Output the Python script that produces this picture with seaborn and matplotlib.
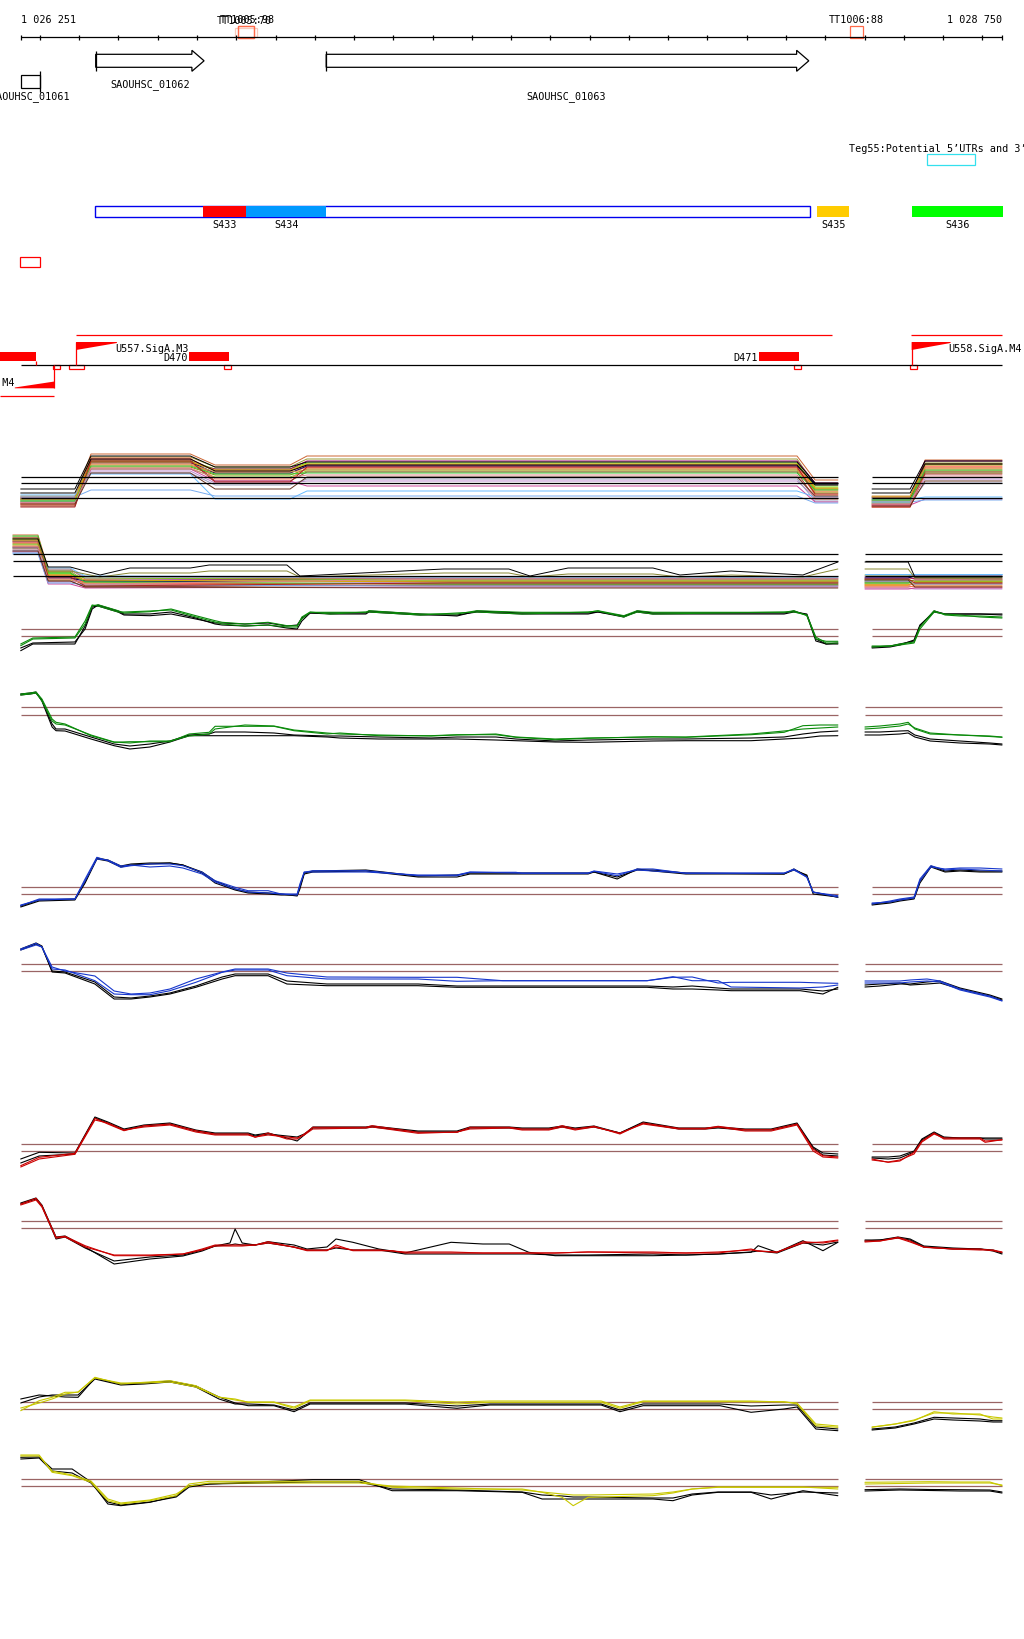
import numpy as np
import pandas as pd
import matplotlib
matplotlib.use("Agg")
import matplotlib.pyplot as plt
import seaborn as sns
from matplotlib.patches import Rectangle, Polygon

# ---------------- data ----------------
START = 1026251
END = 1028750
TICK_STEP = 100

# genes: (name, start offset, end offset, head start offset)
GENE_01062 = ("SAOUHSC_01062", 191, 467, 436)
GENE_01063 = ("SAOUHSC_01063", 778, 2007, 1976)
GENE_01061 = ("SAOUHSC_01061", 0, 48)

TT_SITES = [("TT1005:70", 553, 594), ("TT1005:98", 553, 594), ("TT1006:88", 2112, 2145)]
TEG55 = ("Teg55:Potential 5’UTRs and 3’UTRs", 2308, 2429)

SEG_BAR = (188, 2010)
SEGMENTS = ["S433", "S434", "S435", "S436"]
SEG_START = [464, 574, 2028, 2270]
SEG_END = [574, 778, 2110, 2502]
SEG_COLORS = ["#ff0000", "#0099ff", "#ffcc00", "#00ff00"]

PROMOTERS = ["U556.SigA.M4", "U557.SigA.M3", "U558.SigA.M4"]
PROM_POS = [86, 141, 2269]
PROM_END = [-15, 245, 2368]
TERMINATORS = ["", "D470", "D471"]
TERM_START = [-53, 429, 1881]
TERM_END = [40, 531, 1983]

# ---- multi-condition tracks (levels per line) ----
MULTI_COLORS = ['#cc6633', '#999933', '#66dd00', '#ff3333', '#990066', '#ff6633', '#888800',
                '#77cc22', '#ff7755', '#994433', '#000066', '#cc9944', '#bb88cc', '#9999bb',
                '#cc4499', '#66bbff', '#77aaee', '#33cc33', '#ddaa00', '#aa2222', '#dd8888', '#663322']
M1_X = [0, 138, 179, 432, 495, 686, 729, 1977, 2023, 2081]
M1_LEVELS = [[22, 65, 54, 63, 39], [20, 62, 52, 60, 34], [19, 58, 50, 56, 32], [15, 60, 48, 54, 30],
             [17, 56, 50, 58, 36], [14, 54, 46, 52, 28], [21, 52, 44, 50, 26], [18, 50, 42, 48, 30],
             [16, 61, 40, 51, 24], [13, 59, 38, 47, 20], [20, 57, 46, 53, 35], [23, 55, 47, 49, 27],
             [17, 48, 36, 38, 22], [19, 46, 34, 40, 18], [21, 50, 38, 33, 17], [24, 45, 20, 28, 22],
             [22, 29, 23, 23, 16], [18, 53, 45, 46, 29], [20, 57, 49, 55, 31], [12, 58, 37, 52, 25],
             [16, 51, 41, 44, 21], [15, 46, 30, 42, 23]]
M1_BLACK = [[30, 63, 52, 57, 36], [26, 60, 48, 54, 34]]
M1_RX = [2168, 2265, 2303, 2499]
M1_R = [[20, 59], [18, 56], [16, 54], [14, 52], [22, 58], [12, 50], [19, 48], [17, 46], [13, 53],
        [15, 47], [21, 55], [23, 51], [18, 40], [16, 36], [14, 20], [20, 22], [17, 19], [19, 49],
        [22, 55], [12, 45], [15, 43], [13, 38]]
M1_RBLACK = [[30, 58], [26, 55]]
M1_REFS = [41.7, 35.7, 20.7]

M2_X = [-20, 44, 70, 126, 164, 1093, 2081]
M2_LEVELS = [[64, 30, 20, 21], [62, 28, 18, 19], [60, 26, 17, 18], [58, 24, 16, 15], [57, 22, 19, 20],
             [56, 20, 14, 16], [55, 27, 13, 14], [54, 25, 21, 19], [53, 23, 15, 13], [52, 18, 12, 14],
             [51, 21, 18, 17], [50, 19, 16, 18], [49, 17, 20, 16], [48, 29, 22, 21], [47, 15, 11, 12],
             [46, 31, 23, 22], [45, 16, 14, 13], [63, 26, 17, 15], [59, 24, 19, 17], [61, 22, 13, 16],
             [52, 20, 15, 20], [48, 18, 12, 11]]
M2_BX = [-20, 44, 70, 126, 202, 278, 432, 480, 678, 711, 1078, 1243, 1297, 1394, 1610, 1679, 1809, 1992, 2081]
M2_BLACK = [60, 60, 32, 32, 24, 31, 31, 34, 34, 23, 30, 30, 23, 31, 31, 24, 28, 24, 37]
M2_OLIVE = [58, 58, 28, 28, 22, 26, 26, 28, 28, 22, 26, 26, 22, 25, 25, 22, 24, 22, 30]
M2_RX = [2150, 2260, 2277, 2499]
M2_R = [[20, 21], [18, 19], [16, 17], [14, 15], [22, 20], [12, 13], [19, 18], [24, 22], [13, 12],
        [17, 16], [21, 23], [15, 14], [11, 10], [23, 24], [10, 11], [25, 25], [18, 15], [16, 18],
        [14, 17], [20, 16], [12, 19], [19, 12]]
M2_RBLACK = [37, 37, 22, 22]
M2_ROLIVE = [30, 30, 21, 20]
M2_REFS = [44.7, 37.7, 22.7]

# ---- green ----
GP_X = [0, 31, 138, 164, 182, 197, 248, 263, 329, 383, 446, 495, 513, 571, 630, 678, 704, 716, 737, 788,
        879, 887, 1017, 1111, 1162, 1277, 1445, 1470, 1536, 1570, 1610, 1781, 1944, 1969, 2002, 2025, 2051, 2081]
GP_G1 = [13.3, 20, 21, 35, 53, 54.3, 48.3, 46, 47.3, 50, 43.3, 38.3, 36.7, 35, 36.7, 33.3, 33.3, 40, 46.7, 46.7,
         46.7, 48.3, 45, 45, 48.3, 46.7, 46.7, 48.3, 43.3, 48.3, 46.7, 46.7, 46.7, 48.3, 43.3, 20, 17.7, 17.7]
GP_G2 = [15, 21, 22, 38, 54, 53, 47, 47, 48, 49, 42, 37, 35, 33, 34, 32, 32, 42, 47, 45,
         47, 47, 44, 46, 47, 45, 47, 48, 42, 47, 45, 46, 47, 47, 44, 22, 16, 16]
GP_K1 = [8.3, 15, 15, 33, 52, 53, 47, 44, 43.3, 45, 40, 36, 36, 35, 36, 33, 34, 41, 46, 45,
         45, 47, 44, 44, 47, 45, 45, 47, 43, 47, 45, 45, 45, 47, 45, 20, 15, 15]
GP_K2 = [11, 16, 17, 30, 50, 54, 48, 45, 45, 47, 41, 35, 34, 33, 34, 31, 30, 38, 46, 46,
         46, 48, 45, 43, 48, 46, 46, 47, 42, 48, 46, 46, 46, 48, 44, 18, 15, 16]
GP_RX = [2168, 2214, 2239, 2275, 2290, 2326, 2354, 2392, 2443, 2499]
GP_RG1 = [12, 13, 15, 17, 32, 48.3, 44, 43, 43, 42]
GP_RG2 = [13, 13, 14, 16, 30, 47, 45, 44, 42, 41]
GP_RK1 = [11, 12, 14, 19, 34, 47, 45, 45, 45, 44]
GP_RK2 = [12, 13, 15, 18, 33, 48, 45, 45, 45, 45]
GP_REFS = [29.7, 22.7]

GM_X = [0, 24, 39, 54, 80, 90, 113, 179, 238, 278, 329, 380, 429, 480, 495, 571, 645, 696, 780, 813,
        912, 1045, 1111, 1210, 1261, 1361, 1445, 1610, 1694, 1860, 1944, 1992, 2036, 2081]
GM_G1 = [65, 66, 67, 60, 40, 36.7, 35, 23.3, 16.7, 17.3, 17.3, 17.3, 25, 26.7, 32.7, 32.7, 32.7, 28.3, 25, 26,
         23.3, 23.3, 24.3, 24.3, 21.7, 19.3, 20.7, 22.3, 21.7, 24.3, 26.7, 33.3, 34, 34]
GM_G2 = [64, 65, 66, 58, 38, 35, 34, 24, 17, 16, 18, 18, 23, 25, 30, 34, 33, 29, 26, 25,
         24, 23, 24, 25, 22, 20, 21, 22, 22, 25, 28, 30, 31, 32]
GM_K1 = [65, 66, 67, 58, 32, 28.3, 28, 20, 13.3, 10, 12, 17, 23.3, 23.3, 23.3, 23.3, 23.3, 23.3, 22, 21,
         20, 20, 20, 19, 18.3, 17, 16.7, 18, 18.3, 18.3, 20, 21, 23, 23.3]
GM_K2 = [64, 65, 66, 59, 35, 30, 30, 22, 15, 13, 15, 18, 24, 25, 27, 27, 26, 24, 23, 23,
         22, 21, 22, 22, 20, 18, 19, 20, 20, 21, 22, 25, 27, 28]
GM_RX = [2150, 2188, 2239, 2260, 2277, 2316, 2392, 2468, 2499]
GM_RG1 = [32, 33, 35, 36.7, 30, 25, 24, 22.5, 21.7]
GM_RG2 = [30, 31, 33, 35, 31, 26, 24, 23, 22]
GM_RK1 = [27, 27, 28, 28.3, 24, 20, 18, 16, 15]
GM_RK2 = [24, 24, 25, 26, 22, 18, 16, 15, 14]
GM_REFS = [51.7, 44.3]

# ---- blue ----
BP_X = [0, 47, 138, 164, 194, 222, 255, 281, 329, 380, 413, 462, 495, 546, 579, 630, 663, 704, 711, 722,
        744, 879, 1012, 1111, 1144, 1261, 1277, 1445, 1460, 1519, 1570, 1610, 1694, 1944, 1969, 2002, 2018, 2081]
BP_B1 = [13.3, 20, 20, 40, 61.7, 58.3, 51.7, 53.3, 55, 55, 53.3, 46.7, 38.3, 31.7, 28.3, 28.3, 25, 25, 35, 46.7,
         48.3, 48.3, 43.3, 43.3, 46.7, 46.7, 45.7, 45.7, 47.7, 43.3, 50, 50, 45.7, 45.7, 50, 41.7, 26.7, 23.3]
BP_B2 = [14, 19, 20, 38, 60, 59, 53, 54, 52, 53, 51, 45, 37, 30, 27, 26, 25, 24, 33, 47,
         47, 47, 44, 44, 47, 46, 46, 46, 48, 45, 49, 48, 46, 46, 49, 42, 27, 22]
BP_K1 = [12, 18, 19, 36, 60, 58, 52, 54, 55, 56, 54, 47, 38, 30, 27, 26, 25, 23, 30, 45,
         47, 48, 42, 42, 45, 45, 45, 45, 47, 40, 50, 48, 45, 45, 50, 43, 27, 21.7]
BP_K2 = [13, 19, 20, 37, 61, 59, 53, 55, 56, 56, 54, 46, 36, 29, 26, 25, 24, 24, 32, 46,
         48, 49, 43, 44, 46, 46, 46, 46, 47, 42, 49, 49, 46, 45, 49, 44, 25, 22]
BP_RX = [2168, 2214, 2239, 2275, 2290, 2318, 2354, 2392, 2443, 2499]
BP_RB1 = [15, 18, 20, 22, 40, 53.3, 49, 50, 49, 48]
BP_RB2 = [16, 17, 19, 21, 38, 52, 50, 51, 51, 50]
BP_RK1 = [14, 16, 18, 20, 36, 52, 47, 48, 47, 47]
BP_RK2 = [15, 17, 19, 21, 38, 53, 48, 49, 48, 48]
BP_REFS = [31.7, 24.7]

BM_X = [0, 39, 54, 80, 113, 189, 238, 281, 329, 380, 446, 513, 546, 630, 678, 780, 1012, 1111, 1228, 1595,
        1661, 1710, 1776, 1809, 1985, 2043, 2081]
BM_B1 = [60, 65.7, 62, 40, 39, 28.3, 15, 14.3, 14.3, 18.3, 26.7, 36.7, 39, 39, 33.3, 30, 30, 27.7, 28.3, 28.3,
         32.3, 28.3, 28.3, 22, 21, 22, 24]
BM_B2 = [59, 64, 62, 42, 38, 33, 18, 15, 16, 20, 30, 37, 40, 40, 36, 32, 31.7, 31.7, 28.3, 28.3,
         31.7, 32, 26, 26.7, 26.7, 26, 25.7]
BM_K1 = [60, 66, 63, 37, 36, 25, 10, 10, 12, 15, 21.7, 30, 33.3, 33.3, 25, 23.3, 23.3, 21.7, 21.7, 21.7,
         20, 20, 19, 18.3, 18.3, 15, 21.7]
BM_K2 = [59, 65, 62, 38, 37, 27, 12, 11, 13, 16, 23, 32, 35, 35, 28, 25, 25, 23, 23, 23,
         22, 23, 21, 20, 20, 18, 20]
BM_RX = [2150, 2188, 2239, 2265, 2308, 2341, 2392, 2468, 2499]
BM_RB1 = [28, 28, 28, 29, 30, 28, 20, 13, 8.3]
BM_RB2 = [26, 26, 26, 27, 28, 27, 19, 12, 8]
BM_RK1 = [22, 23, 25, 25, 27, 28, 21, 14, 10]
BM_RK2 = [24, 25, 26, 24, 25, 26, 20, 13, 9]
BM_REFS = [45, 38]

# ---- red ----
RP_X = [0, 47, 138, 189, 222, 263, 314, 380, 446, 495, 579, 597, 630, 678, 704, 722, 744, 879, 895, 1012,
        1111, 1144, 1244, 1277, 1345, 1379, 1412, 1460, 1526, 1585, 1676, 1743, 1776, 1845, 1911, 1977, 2018, 2043, 2081]
RP_R1 = [13.3, 21.7, 25.7, 60.7, 55, 48.3, 53.3, 55, 48.3, 45, 45, 41.7, 46, 40, 40, 45, 51.7, 51.7, 53.3, 46.7,
         46.7, 51.7, 51.7, 50, 50, 53.3, 50, 52.7, 45, 56, 50.7, 50.7, 52.7, 49.3, 49.3, 55, 30, 23.3, 22]
RP_R2 = [12, 20, 24.7, 59, 56, 49, 52, 54, 47, 44, 44, 42, 44, 42, 41, 44, 50, 51, 52, 45.7,
         47, 50, 51, 49, 49, 52, 49, 52, 46, 55, 50, 50, 52, 48, 48, 54, 28, 22, 21]
RP_K1 = [20, 26.7, 26, 62, 57, 50, 54, 56, 49, 46, 46, 44, 46, 41, 38, 44, 52, 52, 53, 48,
         48, 52, 52, 51, 51, 53, 51, 53, 46, 57, 51, 51, 52, 50, 50, 56, 32, 26, 25]
RP_K2 = [16, 23, 25, 61, 56, 49, 53, 55, 48, 45, 45, 43, 45, 43, 42, 45, 51, 51, 52, 47,
         47, 51, 51, 50, 50, 52, 50, 52, 46, 56, 50, 50, 51, 49, 49, 55, 31, 24, 23]
RP_RX = [2168, 2209, 2239, 2275, 2295, 2326, 2351, 2392, 2443, 2456, 2499]
RP_RR1 = [20, 16.7, 18, 26.7, 38, 46, 40, 40, 40, 36.7, 39.3]
RP_RR2 = [19, 17, 19, 25, 37, 45, 41, 41, 41, 38, 39]
RP_RK1 = [22, 22, 23, 28, 40, 47, 42, 41, 41, 41, 41]
RP_RK2 = [21, 20, 21, 27, 39, 46, 41, 41, 41, 40, 40]
RP_REFS = [35, 28]

RM_X = [0, 39, 54, 90, 113, 164, 238, 329, 413, 462, 495, 533, 546, 564, 597, 630, 696, 729, 780, 803,
        846, 912, 946, 979, 1096, 1177, 1244, 1294, 1361, 1445, 1610, 1694, 1776, 1860, 1878, 1926, 1992, 2043, 2081]
RM_R1 = [65, 70.7, 63.3, 31.7, 32.7, 23.3, 13.3, 13.3, 15, 20, 24, 24, 24, 24, 24, 27.3, 21.7, 18.3, 18.3, 24,
         18.3, 18.3, 18.3, 16, 16, 16, 16, 16, 16, 17, 17, 16, 16, 20, 18, 16.7, 27.3, 26, 28.3]
RM_R2 = [64, 69, 62, 31, 32, 22, 14, 14, 15, 19, 23, 23, 23, 23, 24, 26, 22, 19, 19, 22,
         19, 19, 18, 17, 17, 16, 16, 16, 16, 17, 16, 16, 17, 19, 18, 17, 26, 27, 29]
RM_K1 = [66, 71, 64, 32, 33, 22, 5, 10, 13, 18, 23, 26, 40, 26, 24, 27.3, 24, 20, 22, 30,
         26.7, 20, 18, 16, 26.7, 25, 25, 16.7, 13.3, 13.3, 13.3, 14, 15, 16.7, 23.3, 16.7, 28.3, 18.3, 26.7]
RM_K2 = [65, 70, 63, 30, 32, 21, 8, 12, 14, 19, 23, 24, 25, 24, 24, 26, 22, 19, 19, 21,
         19, 19, 17, 15, 15, 15, 15, 15, 14, 14, 15, 14, 15, 17, 18, 16, 26, 24, 27]
RM_RX = [2150, 2188, 2234, 2265, 2300, 2374, 2443, 2476, 2499]
RM_RR1 = [27, 28, 31.7, 28, 21.7, 20, 20, 18.3, 16.7]
RM_RR2 = [28, 28, 31, 27, 22, 20, 19, 19, 17]
RM_RK1 = [29, 29, 32, 30, 23, 21, 20, 18, 15]
RM_RK2 = [28, 29, 31, 29, 22, 20, 20, 19, 16]
RM_REFS = [47.7, 40.7]

# ---- yellow ----
YP_X = [0, 47, 80, 113, 146, 189, 255, 314, 380, 446, 505, 546, 579, 645, 696, 737, 979, 1111, 1195, 1478,
        1526, 1585, 1781, 1860, 1944, 1977, 2025, 2081]
YP_Y1 = [28.3, 38.3, 41.7, 46.7, 46.7, 61.7, 55, 56.7, 58.3, 53.3, 41.7, 40, 36.7, 36.7, 30.7, 38.3, 38.3, 35, 36.7, 36.7,
         30.7, 37.3, 37.3, 37.3, 37.3, 35, 13.3, 11.7]
YP_Y2 = [31, 36, 40, 45, 47, 61, 56, 56, 57, 52, 42, 39, 37, 37, 32, 39, 39, 37, 38, 38,
         32, 38, 38, 38, 37, 36, 15, 13]
YP_K1 = [40, 44, 43, 42, 41.7, 61, 55, 56, 58, 53, 42, 36, 33.3, 33.3, 27.3, 35, 35, 30.7, 34, 34,
         27.3, 33.3, 33.3, 26.7, 30, 32, 10, 8.3]
YP_K2 = [36, 42, 44, 44, 44, 60, 54, 55, 57, 52, 40, 35, 35, 34, 29, 36, 36, 33, 35, 35,
         29, 35, 35, 33, 34, 34, 12, 10]
YP_RX = [2168, 2227, 2275, 2326, 2374, 2443, 2476, 2499]
YP_RY1 = [11.7, 15, 18.3, 27.3, 25, 25, 20, 20]
YP_RY2 = [12, 15, 19, 26, 26, 24, 22, 21]
YP_RK1 = [10, 12, 16, 21.7, 21, 20, 18.3, 18.3]
YP_RK2 = [9, 11, 15, 20, 19, 18, 17, 17]
YP_REFS = [36.7, 29.7]

YM_X = [0, 47, 80, 131, 179, 222, 255, 329, 396, 429, 480, 744, 862, 946, 1111, 1277, 1328, 1379, 1407, 1445,
        1610, 1661, 1710, 1776, 1860, 1911, 1992, 2081]
YM_Y1 = [64, 64, 46.7, 43.3, 36.7, 18.3, 15, 18.3, 23.3, 35, 37.7, 37.7, 37.7, 31.7, 30, 30, 26.7, 21.7, 13.3, 21.7,
         23.3, 26, 30, 31.7, 31.7, 31.7, 31.7, 31.7]
YM_Y2 = [63, 63, 48, 44, 38, 20, 16, 19, 25, 33, 36, 36, 36, 33, 31, 29, 27, 25, 24, 24,
         25, 27, 30, 32, 32, 32, 32, 30]
YM_K1 = [61.7, 62, 50, 50, 37, 15, 13.3, 16.7, 23, 33.3, 35, 39.3, 39.3, 28.3, 28.3, 26.7, 20, 20, 20, 20,
         20, 18.3, 24, 26.7, 26.7, 20, 28.3, 23.3]
YM_K2 = [60, 61, 48, 46, 36, 17, 14, 17, 22, 32, 35, 37, 37, 30, 29, 27, 24, 23, 22, 22,
         21, 21, 25, 27, 27, 24, 27, 26]
YM_RX = [2150, 2239, 2316, 2392, 2468, 2499]
YM_RY1 = [36.7, 37, 37.3, 37, 37, 33.3]
YM_RY2 = [35, 35.5, 36, 36, 36, 34]
YM_RK1 = [29.3, 30, 29.5, 29.3, 29, 27]
YM_RK2 = [28, 29, 28.5, 28, 28, 26]
YM_REFS = [40, 32.7]

# ---------------- styling / layout ----------------
W_PX, H_PX = 1024, 1640
PANEL_H = 80
XL = (START - 52.7, START + 2555.0)
GREEN, BLUE, RED, YELLOW, REF = "#0a8a0a", "#1636cc", "#cc0000", "#c8c800", "#9a6464"
TOMATO = "#ff6a4a"
FS = 7.3

sns.set_theme(style="white")
plt.rcParams["font.family"] = ["DejaVu Sans Mono", "DejaVu Sans"]

fig = plt.figure(figsize=(W_PX / 100, H_PX / 100), dpi=100)
fig.patch.set_facecolor("white")
ax = fig.add_axes([0, 0, 1, 1])
ax.set_xlim(XL)
ax.set_ylim(H_PX, 0)
ax.set_axis_off()


def bp(o):
    return START + np.asarray(o, dtype=float)


def txt(x, y, s, ha="center", **kw):
    ax.text(x, y, s, ha=ha, va="center", fontsize=FS, color=kw.pop("color", "black"), **kw)


# ruler
ax.hlines(38, START, END, color="black", lw=0.9)
ticks = [START] + list(range((START // TICK_STEP + 1) * TICK_STEP, END, TICK_STEP)) + [END]
ax.vlines(ticks, 36.2, 40.8, color="black", lw=0.9)
txt(START, 20, "1 026 251", ha="left")
txt(END, 20, "1 028 750", ha="right")

# terminator sites
for i, (name, a, b) in enumerate(TT_SITES):
    if i == 0:
        ax.add_patch(Rectangle((bp(a - 8), 29), 58, 9, fill=False, ec="#f6cbbd", lw=0.9))
    ax.add_patch(Rectangle((bp(a), 27), b - a, 11.5, fill=False, ec=TOMATO, lw=0.9))
    cx = bp((a + b) / 2) + (-3 if i == 0 else (3 if i == 1 else 0))
    txt(cx, 21 if i == 0 else 20, name)

# genes
def gene_arrow(g):
    name, a, b, h = g
    xa, xb, xh = bp(a), bp(b), bp(h)
    ax.add_patch(Polygon([(xa, 55.3), (xh, 55.3), (xh, 51.3), (xb, 61.8), (xh, 72.3), (xh, 68.3), (xa, 68.3)],
                         closed=True, fill=False, ec="black", lw=0.9))
    ax.vlines(xa, 51.7, 72.3, color="black", lw=0.9)

gene_arrow(GENE_01062)
gene_arrow(GENE_01063)
txt(bp((GENE_01062[1] + GENE_01062[2]) / 2), 85, GENE_01062[0])
txt(bp(1389), 97, GENE_01063[0])
ax.add_patch(Rectangle((bp(GENE_01061[1]), 76.3), GENE_01061[2] - GENE_01061[1], 13, fill=False, ec="black", lw=0.9))
ax.vlines(bp(GENE_01061[2]), 72, 93, color="black", lw=0.9)
txt(bp(25), 97, GENE_01061[0])

# Teg55
txt(bp(TEG55[1]) - 198, 149, TEG55[0], ha="left")
ax.add_patch(Rectangle((bp(TEG55[1]), 155.3), TEG55[2] - TEG55[1], 11, fill=False, ec="#33e0ee", lw=0.9))

# segments
ax.add_patch(Rectangle((bp(SEG_BAR[0]), 207), SEG_BAR[1] - SEG_BAR[0], 10.5, fc="white", ec="#0000ee", lw=1.0))
for s, a, b, c in zip(SEGMENTS, SEG_START, SEG_END, SEG_COLORS):
    ax.add_patch(Rectangle((bp(a), 207), b - a, 10.5, fc=c, ec="none"))
    txt(bp((a + b) / 2), 224.5, s)
ax.add_patch(Rectangle((bp(-1), 258), 50, 10, fill=False, ec="#ff0000", lw=0.9))

# promoter / terminator track
BASE = 366.3
ax.hlines(BASE, START, END, color="black", lw=0.9)
ax.hlines(336, bp(141), bp(2065), color="#ff0000", lw=0.9)
ax.hlines(336, bp(2267), bp(2499), color="#ff0000", lw=0.9)
ax.hlines(397.3, bp(-53), bp(86), color="#ff0000", lw=0.9)
for name, p, e in zip(PROMOTERS, PROM_POS, PROM_END):
    xp = bp(p)
    if e > p:
        ax.vlines(xp, 343, BASE, color="#ff0000", lw=0.9)
        ax.add_patch(Polygon([(xp, 343), (bp(e), 343), (bp(e), 344), (xp, 351)], closed=True, fc="#ff0000", ec="none"))
        txt(bp(e) - 5, 349.5, name, ha="left")
        ax.add_patch(Rectangle((xp - (17 if p < 1000 else 4), BASE), 36 if p < 1000 else 17, 4, fill=False, ec="#ff0000", lw=0.9))
    else:
        ax.vlines(xp, BASE, 389.3, color="#ff0000", lw=0.9)
        ax.add_patch(Polygon([(xp, 389.3), (bp(e), 389.3), (bp(e), 388.5), (xp, 382.5)], closed=True, fc="#ff0000", ec="none"))
        txt(bp(e), 383.5, name, ha="right")
        ax.add_patch(Rectangle((xp - 5, BASE), 18, 4, fill=False, ec="#ff0000", lw=0.9))
for name, a, b in zip(TERMINATORS, TERM_START, TERM_END):
    ax.add_patch(Rectangle((bp(a), 353), b - a, 8.7, fc="#ff0000", ec="none"))
    if name:
        txt(bp(a) - 3, 357.7, name, ha="right")
        ax.add_patch(Rectangle((bp(b) - 14, BASE), 18, 4, fill=False, ec="#ff0000", lw=0.9))
    else:
        ax.vlines(bp(b), 361.7, BASE, color="#ff0000", lw=0.9)


# ---------------- signal panels ----------------
def add_panel(bottom, segs, refs, ref_spans, ref_color, refs_on_top=False, lw=0.8):
    axp = fig.add_axes([0, 1 - bottom / H_PX, 1, PANEL_H / H_PX])
    axp.set_axis_off()

    def draw_refs():
        for a, b in ref_spans:
            axp.hlines(refs, bp(a), bp(b), color=ref_color, lw=0.9)

    if not refs_on_top:
        draw_refs()
    frames, pal = [], {}
    k = 0
    for xs, lines in segs:
        for vals, col in lines:
            name = f"s{k:03d}"
            k += 1
            frames.append(pd.DataFrame({"pos": bp(xs), "val": np.asarray(vals, float), "name": name}))
            pal[name] = col
    df = pd.concat(frames, ignore_index=True)
    sns.lineplot(data=df, x="pos", y="val", hue="name", palette=pal, estimator=None,
                 sort=False, legend=False, lw=lw, ax=axp)
    if refs_on_top:
        draw_refs()
    axp.set_xlim(XL)
    axp.set_ylim(0, PANEL_H)
    axp.set_axis_off()
    return axp


def expand(levels, pattern):
    return [levels[i] for i in pattern]


# multi 1
M1_PAT = [0, 0, 1, 1, 2, 2, 3, 3, 4, 4]
segs = [(M1_X, [(expand(l, M1_PAT), c) for l, c in zip(M1_LEVELS, MULTI_COLORS)] +
         [(expand(l, M1_PAT), "black") for l in M1_BLACK]),
        (M1_RX, [(expand(l, [0, 0, 1, 1]), c) for l, c in zip(M1_R, MULTI_COLORS)] +
         [(expand(l, [0, 0, 1, 1]), "black") for l in M1_RBLACK])]
add_panel(520, segs, M1_REFS, [(0, 2081), (2168, 2499)], "black", refs_on_top=True, lw=0.7)

# multi 2
M2_PAT = [0, 0, 1, 1, 2, 3, 3]
segs = [(M2_X, [(expand(l, M2_PAT), c) for l, c in zip(M2_LEVELS, MULTI_COLORS)]),
        (M2_BX, [(M2_OLIVE, "#888833"), (M2_BLACK, "black")]),
        (M2_RX, [(expand(l, [0, 0, 1, 1]), c) for l, c in zip(M2_R, MULTI_COLORS)] +
         [(M2_ROLIVE, "#888833"), (M2_RBLACK, "black")])]
add_panel(600, segs, M2_REFS, [(-20, 2081), (2150, 2499)], "black", refs_on_top=True, lw=0.7)

PLUS_SPANS = [(0, 2081), (2168, 2499)]
MINUS_SPANS = [(0, 2081), (2150, 2499)]

add_panel(660, [(GP_X, [(GP_K1, "black"), (GP_K2, "black"), (GP_G1, GREEN), (GP_G2, GREEN)]),
                (GP_RX, [(GP_RK1, "black"), (GP_RK2, "black"), (GP_RG1, GREEN), (GP_RG2, GREEN)])],
          GP_REFS, PLUS_SPANS, REF)
add_panel(760, [(GM_X, [(GM_K1, "black"), (GM_K2, "black"), (GM_G1, GREEN), (GM_G2, GREEN)]),
                (GM_RX, [(GM_RK1, "black"), (GM_RK2, "black"), (GM_RG1, GREEN), (GM_RG2, GREEN)])],
          GM_REFS, MINUS_SPANS, REF)
add_panel(920, [(BP_X, [(BP_K1, "black"), (BP_K2, "black"), (BP_B1, BLUE), (BP_B2, BLUE)]),
                (BP_RX, [(BP_RK1, "black"), (BP_RK2, "black"), (BP_RB1, BLUE), (BP_RB2, BLUE)])],
          BP_REFS, PLUS_SPANS, REF)
add_panel(1010, [(BM_X, [(BM_K1, "black"), (BM_K2, "black"), (BM_B1, BLUE), (BM_B2, BLUE)]),
                 (BM_RX, [(BM_RK1, "black"), (BM_RK2, "black"), (BM_RB1, BLUE), (BM_RB2, BLUE)])],
          BM_REFS, MINUS_SPANS, REF)
add_panel(1180, [(RP_X, [(RP_K1, "black"), (RP_K2, "black"), (RP_R1, RED), (RP_R2, RED)]),
                 (RP_RX, [(RP_RK1, "black"), (RP_RK2, "black"), (RP_RR1, RED), (RP_RR2, RED)])],
          RP_REFS, PLUS_SPANS, REF)
add_panel(1270, [(RM_X, [(RM_K1, "black"), (RM_K2, "black"), (RM_R1, RED), (RM_R2, RED)]),
                 (RM_RX, [(RM_RK1, "black"), (RM_RK2, "black"), (RM_RR1, RED), (RM_RR2, RED)])],
          RM_REFS, MINUS_SPANS, REF)
add_panel(1440, [(YP_X, [(YP_K1, "black"), (YP_K2, "black"), (YP_Y1, YELLOW), (YP_Y2, YELLOW)]),
                 (YP_RX, [(YP_RK1, "black"), (YP_RK2, "black"), (YP_RY1, YELLOW), (YP_RY2, YELLOW)])],
          YP_REFS, PLUS_SPANS, REF)
add_panel(1520, [(YM_X, [(YM_K1, "black"), (YM_K2, "black"), (YM_Y1, YELLOW), (YM_Y2, YELLOW)]),
                 (YM_RX, [(YM_RK1, "black"), (YM_RK2, "black"), (YM_RY1, YELLOW), (YM_RY2, YELLOW)])],
          YM_REFS, MINUS_SPANS, REF)

fig.savefig("out.png", dpi=100, facecolor="white")
